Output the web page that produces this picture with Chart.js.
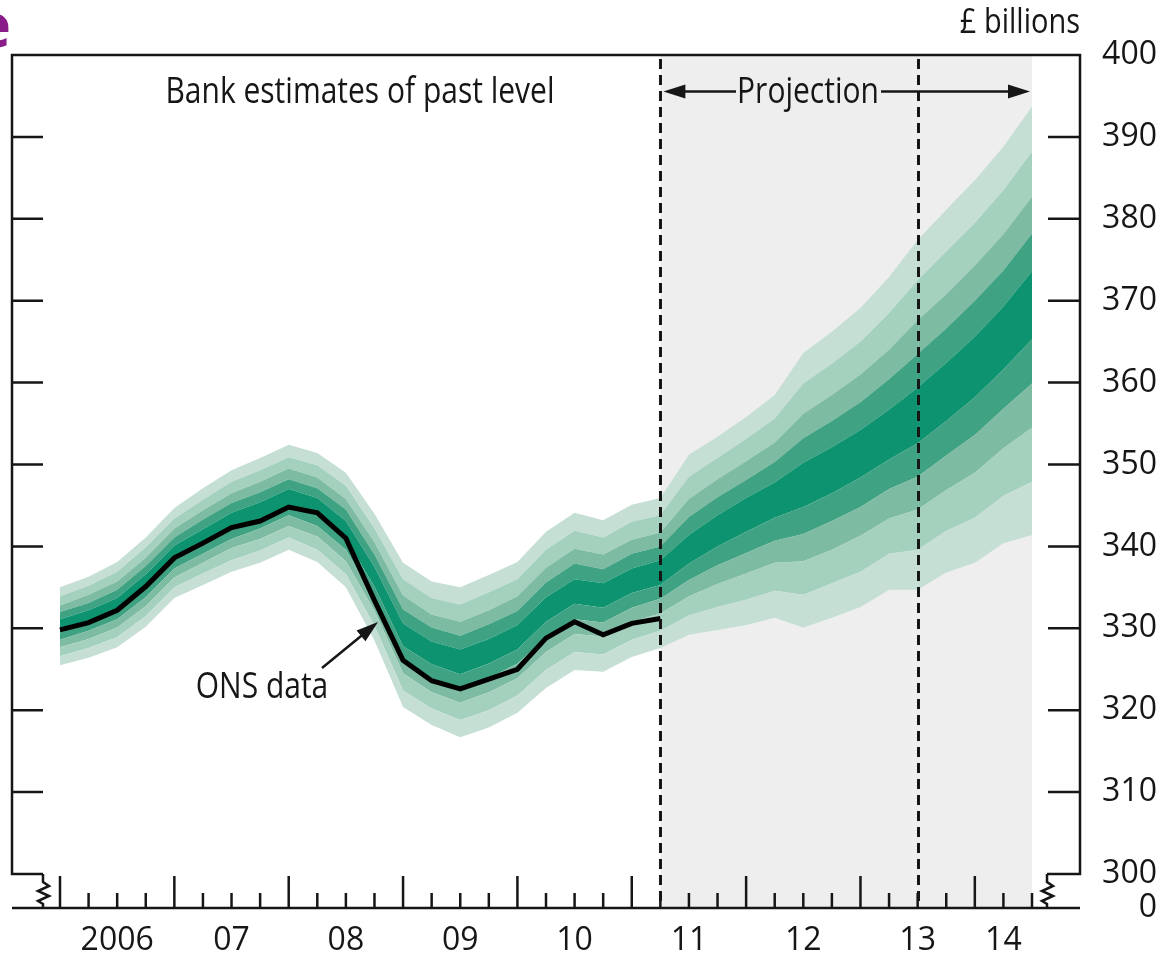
<!DOCTYPE html>
<html>
<head>
<meta charset="utf-8">
<script src="https://cdn.jsdelivr.net/npm/chart.js@4.4.1/dist/chart.umd.min.js"></script>
<style>
html,body{margin:0;padding:0;background:#ffffff;}
canvas{display:block;}
</style>
</head>
<body>
<canvas id="c" width="1165" height="957"></canvas>
<script>
// ---------------- DATA ----------------
const quarters = [
  '2006 Q1','2006 Q2','2006 Q3','2006 Q4','2007 Q1','2007 Q2','2007 Q3','2007 Q4',
  '2008 Q1','2008 Q2','2008 Q3','2008 Q4','2009 Q1','2009 Q2','2009 Q3','2009 Q4',
  '2010 Q1','2010 Q2','2010 Q3','2010 Q4','2011 Q1','2011 Q2','2011 Q3','2011 Q4',
  '2012 Q1','2012 Q2','2012 Q3','2012 Q4','2013 Q1','2013 Q2','2013 Q3','2013 Q4',
  '2014 Q1','2014 Q2','2014 Q3'
];
// ONS data (£ billions), 2006 Q1 .. 2011 Q2
const onsData = [329.8,330.7,332.2,335.1,338.6,340.4,342.3,343.1,344.8,344.1,341.0,333.4,326.1,323.6,322.6,323.8,325.0,328.8,330.8,329.2,330.6,331.2];

// Fan chart band edges (£ billions), one value per quarter
const band90Upper = [335.0,336.3,338.1,341.1,344.7,347.1,349.3,350.8,352.4,351.4,349.0,344.0,338.0,335.7,335.0,336.5,338.1,341.8,344.1,343.2,345.1,345.9,351.2,353.4,355.8,358.5,363.6,366.2,369.1,372.9,377.4,381.1,384.7,388.8,393.7];
const band70Upper = [333.9,335.2,336.9,339.9,343.4,345.7,347.9,349.3,350.9,349.9,347.4,342.2,336.0,333.7,332.9,334.4,336.0,339.6,341.9,341.1,343.0,343.8,348.5,350.8,353.1,355.6,359.9,362.3,365.0,368.5,372.5,376.0,379.5,383.5,388.2];
const band50Upper = [332.8,334.1,335.7,338.6,342.2,344.4,346.5,347.9,349.5,348.4,345.8,340.5,334.0,331.7,330.8,332.2,333.9,337.4,339.7,339.0,340.8,341.7,345.8,348.2,350.4,352.7,356.2,358.5,361.0,364.0,367.6,370.8,374.3,378.1,382.7];
const band30Upper = [332.0,333.1,334.7,337.6,341.1,343.3,345.3,346.6,348.2,347.1,344.5,339.0,332.3,330.1,329.1,330.5,332.1,335.6,337.9,337.2,339.1,340.0,343.6,346.0,348.1,350.3,353.2,355.3,357.6,360.4,363.5,366.6,370.0,373.7,378.2];
const band10Upper = [331.1,332.2,333.7,336.6,340.1,342.1,344.1,345.4,347.0,345.9,343.1,337.5,330.6,328.4,327.4,328.7,330.4,333.8,336.0,335.5,337.3,338.3,341.4,343.8,345.9,347.8,350.2,352.1,354.2,356.7,359.4,362.4,365.6,369.3,373.6];
const band10Lower = [329.5,330.6,332.1,334.8,338.3,340.3,342.1,343.4,345.0,343.7,340.9,335.1,327.8,325.6,324.4,325.7,327.4,330.8,333.0,332.5,334.3,335.3,337.9,340.0,341.8,343.5,344.8,346.5,348.4,350.6,352.6,355.3,358.2,361.6,365.3];
const band30Lower = [328.6,329.7,331.1,333.8,337.3,339.1,340.9,342.2,343.8,342.5,339.6,333.6,326.1,323.9,322.7,323.9,325.7,328.9,331.1,330.7,332.5,333.6,335.9,337.7,339.2,340.7,341.5,343.1,344.8,347.0,348.5,351.1,353.6,356.8,359.9];
const band50Lower = [327.7,328.7,330.1,332.7,336.2,338.0,339.8,340.9,342.5,341.2,338.2,332.1,324.5,322.2,320.9,322.2,323.9,327.1,329.3,329.0,330.8,331.8,333.9,335.4,336.7,338.0,338.2,339.6,341.3,343.4,344.5,346.9,349.0,352.0,354.5];
const band70Lower = [326.6,327.6,328.9,331.5,335.0,336.7,338.3,339.5,341.1,339.6,336.6,330.3,322.4,320.2,318.8,320.0,321.8,324.9,327.1,326.8,328.6,329.7,331.6,332.6,333.5,334.6,334.1,335.5,336.9,339.1,339.6,341.9,343.5,346.2,347.9];
const band90Lower = [325.5,326.4,327.7,330.2,333.7,335.3,336.9,338.0,339.6,338.1,335.0,328.5,320.4,318.2,316.7,317.9,319.7,322.7,324.9,324.7,326.5,327.6,329.2,329.8,330.4,331.3,330.1,331.3,332.6,334.7,334.7,336.8,338.0,340.4,341.4];

// Axis labels
const yearLabels = ['2006','07','08','09','10','11','12','13','14'];
const yearLabelQuarter = ['2006 Q3','2007 Q3','2008 Q3','2009 Q3','2010 Q3','2011 Q3','2012 Q3','2013 Q3','2014 Q2'];
const yTickValues = [300,310,320,330,340,350,360,370,380,390,400];
const yBreakLabel = '0';
const projectionStart = '2011 Q2';
const secondMarker = '2013 Q3';

// ---------------- STYLE ----------------
const FONT = '"Open Sans", "Noto Sans", sans-serif';
const INK = '#161616';
const shades = ['#c5dfd4', '#a4d0be', '#7dbba3', '#3ea283', '#0d9370'];
const Y_MIN = 295.85, Y_MAX = 400;
const qi = q => quarters.indexOf(q);
const pts = arr => arr.map((v, k) => ({x: k, y: v}));

const edges = [band90Lower, band70Lower, band50Lower, band30Lower, band10Lower,
               band10Upper, band30Upper, band50Upper, band70Upper, band90Upper];
const edgeFill = [null, shades[0], shades[1], shades[2], shades[3], shades[4], shades[3], shades[2], shades[1], shades[0]];

const datasets = edges.map((arr, k) => ({
  data: pts(arr),
  borderWidth: 0,
  borderColor: 'rgba(0,0,0,0)',
  pointRadius: 0,
  tension: 0,
  fill: k === 0 ? false : '-1',
  backgroundColor: edgeFill[k] || 'rgba(0,0,0,0)',
  order: 1
}));
datasets.push({
  data: pts(onsData),
  borderColor: '#000',
  borderWidth: 5,
  pointRadius: 0,
  tension: 0,
  fill: false,
  order: -1,
  borderJoinStyle: 'miter'
});

function stretchedText(ctx, text, x, y, align, size) {
  ctx.save();
  ctx.font = size + 'px ' + FONT;
  ctx.fillStyle = INK;
  ctx.textAlign = align;
  ctx.textBaseline = 'alphabetic';
  ctx.translate(x, y);
  ctx.scale(1, 1.2);
  ctx.fillText(text, 0, 0);
  ctx.restore();
}
function arrowHead(ctx, x, y, dir) {
  ctx.beginPath();
  ctx.moveTo(x, y);
  ctx.lineTo(x - dir * 22, y - 7);
  ctx.lineTo(x - dir * 22, y + 7);
  ctx.closePath();
  ctx.fill();
}

const decor = {
  id: 'decor',
  beforeDatasetsDraw(chart) {
    const {ctx, chartArea: a, scales: {x, y}} = chart;
    const x0 = x.getPixelForValue(qi(projectionStart));
    const x1 = x.getPixelForValue(quarters.length - 1);
    const top = y.getPixelForValue(Y_MAX);
    ctx.save();
    ctx.fillStyle = '#edeeed';
    ctx.fillRect(x0, top, x1 - x0, a.bottom - top);
    ctx.restore();
  },
  afterDatasetsDraw(chart) {
    const {ctx, chartArea: a, scales: {x, y}} = chart;
    const top = y.getPixelForValue(Y_MAX);
    const bottom = a.bottom;
    const brk = y.getPixelForValue(300);
    const L = a.left, R = a.right;
    ctx.save();
    ctx.strokeStyle = INK;
    ctx.fillStyle = INK;

    // dashed vertical lines
    ctx.lineWidth = 3;
    ctx.setLineDash([10, 6]);
    [projectionStart, secondMarker].forEach(q => {
      const px = Math.round(x.getPixelForValue(qi(q))) + 0.5;
      ctx.beginPath();
      ctx.moveTo(px, top + 4);
      ctx.lineTo(px, bottom);
      ctx.stroke();
    });
    ctx.setLineDash([]);

    // frame with axis breaks
    ctx.lineWidth = 2.5;
    ctx.lineJoin = 'miter';
    const lb = L + 31, rb = R - 33;
    ctx.beginPath();
    ctx.moveTo(lb, brk);
    ctx.lineTo(L, brk);
    ctx.lineTo(L, top);
    ctx.lineTo(R, top);
    ctx.lineTo(R, brk);
    ctx.lineTo(rb, brk);
    ctx.stroke();
    const zig = (bx) => {
      ctx.beginPath();
      ctx.moveTo(bx, brk);
      ctx.lineTo(bx, brk + 8);
      ctx.lineTo(bx + 6, brk + 12);
      ctx.lineTo(bx - 5, brk + 17);
      ctx.lineTo(bx + 6, brk + 22);
      ctx.lineTo(bx - 5, brk + 27);
      ctx.lineTo(bx, brk + 30);
      ctx.lineTo(bx, bottom);
      ctx.stroke();
    };
    zig(lb); zig(rb);
    // x axis line
    ctx.beginPath();
    ctx.moveTo(L, bottom);
    ctx.lineTo(R, bottom);
    ctx.stroke();

    // x tick marks (quarters, taller at year starts)
    quarters.forEach((q, k) => {
      const px = x.getPixelForValue(k);
      const h = q.endsWith('Q1') ? 32 : 15;
      ctx.beginPath();
      ctx.moveTo(px, bottom);
      ctx.lineTo(px, bottom - h);
      ctx.stroke();
    });

    // y tick marks on both frame sides
    yTickValues.forEach(v => {
      if (v === 300 || v === 400) return;
      const py = y.getPixelForValue(v);
      ctx.beginPath();
      ctx.moveTo(L, py); ctx.lineTo(L + 31, py);
      ctx.moveTo(R, py); ctx.lineTo(R - 32, py);
      ctx.stroke();
    });

    // Projection label with arrows
    const xp0 = x.getPixelForValue(qi(projectionStart)) + 3;
    const xp1 = x.getPixelForValue(quarters.length - 1) - 2;
    const ay = 91.5;
    ctx.lineWidth = 2.5;
    ctx.beginPath();
    ctx.moveTo(xp0 + 15, ay); ctx.lineTo(736, ay);
    ctx.moveTo(881, ay); ctx.lineTo(xp1 - 15, ay);
    ctx.stroke();
    arrowHead(ctx, xp0, ay, -1);
    arrowHead(ctx, xp1, ay, 1);
    stretchedText(ctx, 'Projection', 808, 103, 'center', 30);

    stretchedText(ctx, 'Bank estimates of past level', 360, 103, 'center', 30);
    stretchedText(ctx, '£ billions', 1080, 33, 'right', 29);
    stretchedText(ctx, 'ONS data', 262, 698, 'center', 30);

    // ONS arrow
    ctx.lineWidth = 2.5;
    ctx.beginPath();
    ctx.moveTo(322, 668);
    ctx.lineTo(366, 632);
    ctx.stroke();
    ctx.save();
    ctx.translate(378, 622);
    ctx.rotate(Math.atan2(622 - 668, 378 - 322));
    arrowHead(ctx, 0, 0, 1);
    ctx.restore();

    // cropped panel letter at top-left
    ctx.fillStyle = '#8a1c8a';
    ctx.font = 'bold 60px ' + FONT;
    ctx.textAlign = 'right';
    ctx.textBaseline = 'alphabetic';
    ctx.fillText('e', 11, 47);

    ctx.restore();
  }
};

new Chart(document.getElementById('c'), {
  type: 'line',
  data: { datasets },
  options: {
    responsive: false,
    animation: false,
    devicePixelRatio: 1,
    layout: { padding: { left: 12, top: 55, right: 8, bottom: 0 } },
    plugins: { legend: { display: false }, tooltip: { enabled: false } },
    elements: { line: { borderCapStyle: 'butt' } },
    scales: {
      x: {
        type: 'linear',
        min: -1.679,
        max: 35.679,
        position: 'bottom',
        grid: { display: false, drawTicks: false },
        border: { display: false },
        afterBuildTicks: s => { s.ticks = yearLabelQuarter.map(q => ({ value: qi(q) })); },
        afterFit: s => { s.height = 49; },
        ticks: {
          autoSkip: false,
          maxRotation: 0,
          padding: 14,
          color: INK,
          font: { family: FONT, size: 32 },
          callback: (v, i) => yearLabels[i]
        }
      },
      y: {
        type: 'linear',
        position: 'right',
        min: Y_MIN,
        max: Y_MAX,
        grid: { display: false, drawTicks: false },
        border: { display: false },
        afterBuildTicks: s => { s.ticks = [{ value: Y_MIN }].concat(yTickValues.map(v => ({ value: v }))); },
        afterFit: s => { s.width = 77; },
        ticks: {
          autoSkip: false,
          crossAlign: 'far',
          padding: 23,
          color: INK,
          font: { family: FONT, size: 32 },
          callback: v => (v < 300 ? yBreakLabel : String(v))
        }
      }
    }
  },
  plugins: [decor]
});
</script>
</body>
</html>
